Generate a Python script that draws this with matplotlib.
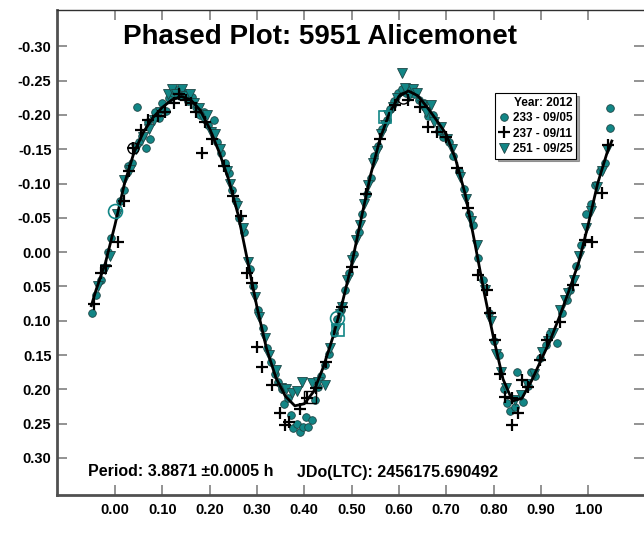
import numpy as np
import matplotlib.pyplot as plt
from matplotlib.lines import Line2D

plt.rcParams['font.family'] = ['Liberation Sans', 'DejaVu Sans']
plt.rcParams['axes.unicode_minus'] = False

# fitted curve (phase, reduced mag)
fit_phase = [-0.05, -0.04, -0.02, 0.00, 0.02, 0.04, 0.06, 0.08, 0.10, 0.12, 0.14,
             0.16, 0.18, 0.20, 0.22, 0.24, 0.26, 0.28, 0.30, 0.32, 0.34, 0.36,
             0.38, 0.40, 0.42, 0.44, 0.46, 0.48, 0.50, 0.52, 0.54, 0.56, 0.58,
             0.60, 0.62, 0.64, 0.66, 0.68, 0.70, 0.72, 0.74, 0.76, 0.78, 0.80,
             0.82, 0.84, 0.86, 0.88, 0.90, 0.92, 0.94, 0.96, 0.98, 1.00, 1.02,
             1.04, 1.05]
fit_mag = [0.078, 0.055, 0.015, -0.040, -0.100, -0.145, -0.175, -0.196, -0.211, -0.222, -0.227,
           -0.222, -0.207, -0.180, -0.146, -0.106, -0.055, 0.012, 0.080, 0.140, 0.183, 0.210,
           0.224, 0.221, 0.203, 0.168, 0.125, 0.075, 0.018, -0.048, -0.112, -0.165, -0.203,
           -0.227, -0.235, -0.228, -0.211, -0.192, -0.172, -0.135, -0.085, -0.015, 0.058, 0.125,
           0.185, 0.217, 0.213, 0.188, 0.158, 0.128, 0.093, 0.055, 0.015, -0.040, -0.100,
           -0.145, -0.162]

# session 233 - 09/05
obs_233 = [(-0.048, 0.088), (-0.040, 0.062), (-0.030, 0.040), (-0.015, 0.000), (-0.008, -0.020),
           (0.010, -0.075), (0.018, -0.090), (0.028, -0.125), (0.035, -0.130), (0.046, -0.212),
           (0.050, -0.160), (0.058, -0.170), (0.065, -0.152), (0.070, -0.190), (0.075, -0.165),
           (0.085, -0.205), (0.092, -0.195), (0.100, -0.218), (0.108, -0.206), (0.115, -0.225),
           (0.122, -0.232), (0.130, -0.236), (0.138, -0.228), (0.148, -0.232), (0.155, -0.220),
           (0.162, -0.226), (0.172, -0.212), (0.180, -0.200), (0.188, -0.205), (0.196, -0.185),
           (0.210, -0.192), (0.215, -0.160), (0.225, -0.145), (0.232, -0.130), (0.240, -0.115),
           (0.248, -0.090), (0.255, -0.075), (0.262, -0.050), (0.272, -0.030), (0.285, 0.025),
           (0.292, 0.050), (0.302, 0.085), (0.312, 0.110), (0.322, 0.140), (0.330, 0.160),
           (0.338, 0.178), (0.345, 0.190), (0.352, 0.200), (0.358, 0.222), (0.366, 0.212),
           (0.372, 0.238), (0.377, 0.257), (0.385, 0.250), (0.392, 0.262), (0.398, 0.255),
           (0.404, 0.240), (0.408, 0.255), (0.416, 0.245), (0.422, 0.215), (0.430, 0.196),
           (0.436, 0.180), (0.444, 0.165), (0.452, 0.148), (0.462, 0.118), (0.470, 0.098),
           (0.478, 0.085), (0.486, 0.055), (0.495, 0.030), (0.505, 0.002), (0.515, -0.030),
           (0.522, -0.055), (0.532, -0.085), (0.540, -0.108), (0.548, -0.140), (0.556, -0.155),
           (0.565, -0.180), (0.574, -0.192), (0.582, -0.208), (0.590, -0.220), (0.598, -0.232),
           (0.606, -0.238), (0.615, -0.232), (0.624, -0.240), (0.632, -0.230), (0.642, -0.222),
           (0.652, -0.218), (0.662, -0.198), (0.672, -0.200), (0.684, -0.176), (0.694, -0.168),
           (0.705, -0.160), (0.715, -0.140), (0.726, -0.118), (0.738, -0.092), (0.748, -0.055),
           (0.756, -0.040), (0.768, 0.008), (0.778, 0.040), (0.790, 0.088), (0.800, 0.130),
           (0.812, 0.150), (0.822, 0.200), (0.828, 0.220), (0.835, 0.232), (0.845, 0.225),
           (0.849, 0.175), (0.862, 0.218), (0.872, 0.195), (0.880, 0.175), (0.888, 0.180),
           (0.898, 0.155), (0.910, 0.135), (0.920, 0.118), (0.934, 0.132), (0.945, 0.088),
           (0.955, 0.070), (0.962, 0.055), (0.975, 0.020), (0.985, -0.010), (0.995, -0.055),
           (1.005, -0.070), (1.015, -0.098), (1.025, -0.118), (1.035, -0.130), (1.047, -0.181),
           (1.047, -0.210)]

# session 237 - 09/11
obs_237 = [(-0.045, 0.075), (-0.030, 0.030), (-0.018, 0.020), (0.006, -0.015), (0.018, -0.075),
           (0.030, -0.118), (0.038, -0.152), (0.055, -0.178), (0.070, -0.192), (0.090, -0.198),
           (0.105, -0.205), (0.125, -0.218), (0.135, -0.230), (0.150, -0.222), (0.160, -0.218),
           (0.172, -0.205), (0.184, -0.144), (0.190, -0.190), (0.205, -0.165), (0.230, -0.125),
           (0.250, -0.082), (0.266, -0.052), (0.280, 0.030), (0.290, 0.045), (0.300, 0.138),
           (0.310, 0.167), (0.331, 0.194), (0.349, 0.235), (0.359, 0.252), (0.368, 0.248),
           (0.390, 0.228), (0.405, 0.212), (0.425, 0.198), (0.445, 0.160), (0.480, 0.080),
           (0.500, 0.022), (0.530, -0.085), (0.560, -0.165), (0.592, -0.215), (0.620, -0.222),
           (0.645, -0.211), (0.662, -0.182), (0.680, -0.175), (0.700, -0.168), (0.722, -0.122),
           (0.745, -0.065), (0.767, 0.034), (0.786, 0.055), (0.793, 0.089), (0.803, 0.128),
           (0.814, 0.177), (0.824, 0.211), (0.838, 0.212), (0.840, 0.252), (0.852, 0.235),
           (0.860, 0.187), (0.873, 0.197), (0.898, 0.157), (0.913, 0.128), (0.940, 0.102),
           (0.968, 0.048), (0.993, -0.017), (1.008, -0.015), (1.030, -0.086), (1.042, -0.156)]

# session 251 - 09/25
obs_251 = [(-0.035, 0.050), (-0.022, 0.025), (-0.010, 0.005), (0.005, -0.055), (0.020, -0.105),
           (0.032, -0.120), (0.045, -0.150), (0.060, -0.168), (0.072, -0.180), (0.082, -0.192),
           (0.095, -0.205), (0.112, -0.230), (0.120, -0.238), (0.128, -0.230), (0.142, -0.238),
           (0.150, -0.228), (0.158, -0.230), (0.168, -0.218), (0.178, -0.210), (0.185, -0.195),
           (0.195, -0.200), (0.202, -0.175), (0.212, -0.172), (0.222, -0.150), (0.236, -0.118),
           (0.244, -0.100), (0.258, -0.068), (0.270, -0.035), (0.282, 0.015), (0.295, 0.065),
           (0.305, 0.095), (0.318, 0.125), (0.326, 0.150), (0.340, 0.172), (0.350, 0.198),
           (0.362, 0.200), (0.375, 0.205), (0.385, 0.202), (0.395, 0.190), (0.416, 0.191),
           (0.430, 0.190), (0.444, 0.194), (0.455, 0.140), (0.466, 0.112), (0.475, 0.090),
           (0.480, 0.080), (0.490, 0.040), (0.500, 0.012), (0.510, -0.018), (0.518, -0.040),
           (0.526, -0.070), (0.535, -0.098), (0.545, -0.130), (0.553, -0.148), (0.562, -0.172),
           (0.570, -0.185), (0.578, -0.200), (0.588, -0.212), (0.596, -0.225), (0.607, -0.261),
           (0.612, -0.240), (0.622, -0.228), (0.630, -0.238), (0.638, -0.232), (0.648, -0.215),
           (0.658, -0.205), (0.668, -0.215), (0.675, -0.190), (0.690, -0.182), (0.702, -0.165),
           (0.712, -0.150), (0.730, -0.110), (0.742, -0.078), (0.752, -0.045), (0.765, -0.010),
           (0.782, 0.055), (0.795, 0.100), (0.806, 0.148), (0.815, 0.175), (0.826, 0.198),
           (0.845, 0.215), (0.858, 0.208), (0.870, 0.192), (0.885, 0.178), (0.902, 0.145),
           (0.915, 0.130), (0.925, 0.118), (0.940, 0.085), (0.950, 0.070), (0.958, 0.060),
           (0.970, 0.040), (0.980, 0.005), (0.995, -0.035), (1.005, -0.060), (1.018, -0.095),
           (1.030, -0.118), (1.040, -0.150)]

# larger open symbols marking session starts
rings_teal = [(0.000, -0.060), (0.469, 0.096)]
squares_teal = [(0.472, 0.114), (0.571, -0.197)]
rings_black = [(0.609, -0.224), (0.038, -0.152)]
squares_black = [(0.412, 0.211)]

session_labels = ['233 - 09/05', '237 - 09/11', '251 - 09/25']
x_ticks = [0.0, 0.1, 0.2, 0.3, 0.4, 0.5, 0.6, 0.7, 0.8, 0.9, 1.0]
y_ticks = [-0.30, -0.25, -0.20, -0.15, -0.10, -0.05, 0.00, 0.05, 0.10, 0.15, 0.20, 0.25, 0.30]

teal = '#128686'
teal_edge = '#1d4545'

fig = plt.figure(figsize=(6.44, 5.38), dpi=100)
ax = fig.add_axes([57 / 644, 43 / 538, 587 / 644, 485 / 538])

p, m = np.array(obs_233).T
ax.plot(p, m, 'o', ms=5.5, mfc=teal, mec=teal_edge, mew=0.6, zorder=3)
p, m = np.array(obs_251).T
ax.plot(p, m, 'v', ms=6.5, mfc=teal, mec=teal_edge, mew=0.6, zorder=3)
p, m = np.array(obs_237).T
ax.plot(p, m, '+', ms=8, color='black', mew=1.6, zorder=4)

ax.plot(fit_phase, fit_mag, color='black', lw=2, zorder=5)

p, m = np.array(rings_teal).T
ax.plot(p, m, 'o', ms=10, mfc='none', mec=teal, mew=1.2, zorder=6)
p, m = np.array(squares_teal).T
ax.plot(p, m, 's', ms=9, mfc='none', mec=teal, mew=1.2, zorder=6)
p, m = np.array(rings_black).T
ax.plot(p, m, 'o', ms=8, mfc='none', mec='black', mew=1.0, zorder=6)
p, m = np.array(squares_black).T
ax.plot(p, m, 's', ms=8, mfc='none', mec='black', mew=1.0, zorder=6)

ax.set_xlim(-0.1226, 1.118)
ax.set_ylim(0.354, -0.353)
ax.set_xticks(x_ticks)
ax.set_xticklabels([f'{v:.2f}' for v in x_ticks])
ax.set_yticks(y_ticks)
ax.set_yticklabels([f'{v:.2f}' for v in y_ticks])

for lab in ax.get_xticklabels() + ax.get_yticklabels():
    lab.set_fontweight('bold')
    lab.set_fontsize(10.5)

ax.tick_params(axis='both', direction='in', color='#808080', width=1.2,
               top=True, right=True, length=7)
ax.tick_params(axis='x', pad=6)
ax.tick_params(axis='y', pad=4)

for side in ['left', 'bottom']:
    ax.spines[side].set_linewidth(2)
    ax.spines[side].set_color('#505050')
ax.spines['top'].set_linewidth(1)
ax.spines['top'].set_color('#303030')
ax.spines['right'].set_visible(False)

ax.text(0.448, 0.944, 'Phased Plot: 5951 Alicemonet', transform=ax.transAxes,
        ha='center', va='center', fontsize=20, fontweight='bold')
ax.text((88 - 57) / 587, (495 - 472) / 485, 'Period: 3.8871 \u00b10.0005 h',
        transform=ax.transAxes, ha='left', va='center', fontsize=11.5, fontweight='bold')
ax.text((297 - 57) / 587, (495 - 472) / 485, 'JDo(LTC): 2456175.690492',
        transform=ax.transAxes, ha='left', va='center', fontsize=11.5, fontweight='bold')

handles = [Line2D([], [], ls='', marker='o', ms=5.5, mfc=teal, mec=teal_edge, mew=0.6),
           Line2D([], [], ls='', marker='+', ms=8, color='black', mew=1.6),
           Line2D([], [], ls='', marker='v', ms=6.5, mfc=teal, mec=teal_edge, mew=0.6)]
leg = ax.legend(handles, session_labels, title='Year: 2012', loc='upper left',
                bbox_to_anchor=((495 - 57) / 587, (495 - 93) / 485),
                prop={'weight': 'bold', 'size': 8.5},
                title_fontproperties={'weight': 'bold', 'size': 8.5},
                alignment='right', frameon=True, fancybox=False, shadow=True,
                edgecolor='black', framealpha=1, borderpad=0.3, labelspacing=0.3,
                handletextpad=0.2, handlelength=1.0, borderaxespad=0)
leg.get_frame().set_linewidth(0.8)
leg.set_zorder(10)

fig.savefig('out.png', dpi=100)
